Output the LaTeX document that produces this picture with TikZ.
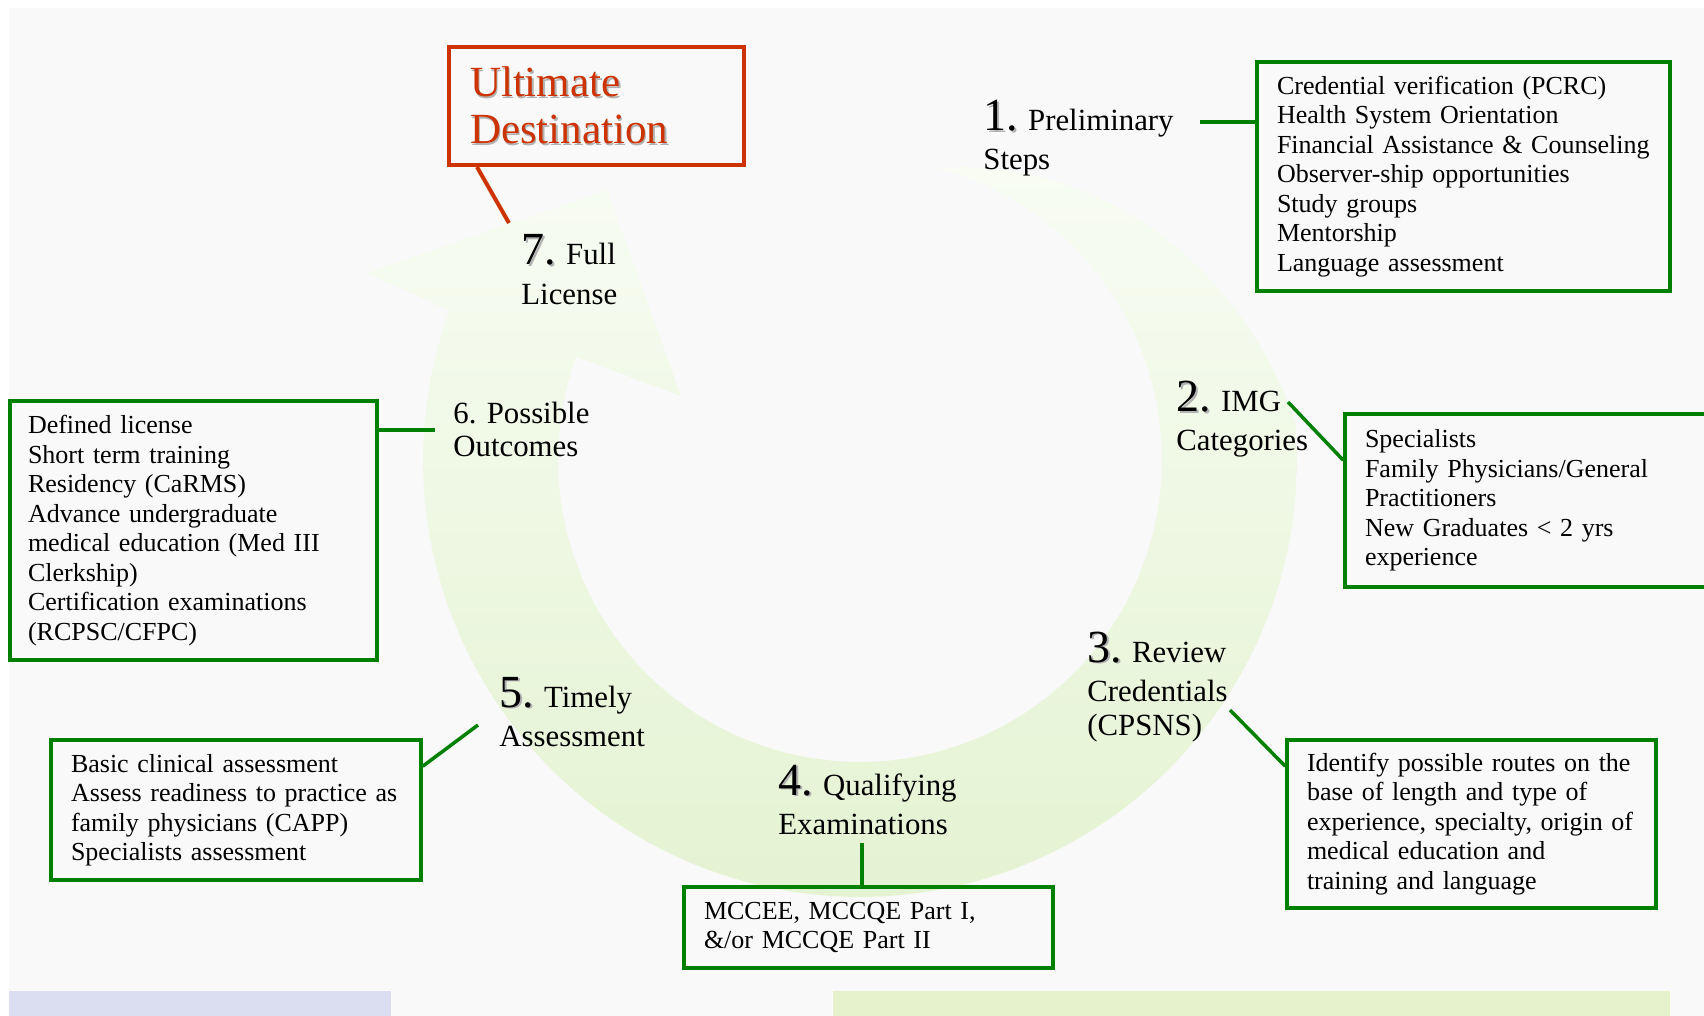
\documentclass[tikz,border=0pt]{standalone}
\usepackage{fontspec}
\setmainfont{Liberation Serif}
\usetikzlibrary{positioning}

\definecolor{boxgreen}{RGB}{0,128,0}
\definecolor{destred}{RGB}{204,51,0}
\definecolor{slidebg}{RGB}{249,249,249}
\definecolor{ringtop}{RGB}{248,252,243}
\definecolor{ringbot}{RGB}{228,243,210}
\definecolor{barblue}{RGB}{219,221,240}
\definecolor{bargreen}{RGB}{229,242,203}

\newcommand{\shadowed}[1]{\makebox[0pt][l]{\hspace{0.8pt}\raisebox{-0.8pt}{\textcolor{black!30}{#1}}}#1}
\newcommand{\stepno}[1]{{\fontsize{23}{23}\selectfont\shadowed{#1}}}

\begin{document}
\begin{tikzpicture}[
		x=0.5pt, y=-0.5pt,
		steplabel/.style={anchor=base west, inner sep=0pt, align=left, font=\fontsize{15.4}{17}\selectfont},
		infobox/.style={draw=boxgreen, line width=1.75pt, align=left, inner xsep=10pt, inner ysep=0pt, font=\fontsize{13}{14.75}\selectfont},
		destbox/.style={draw=destred, line width=2pt, text=destred, align=left, inner xsep=10.5pt, inner ysep=0pt, font=\fontsize{21.5}{23.5}\selectfont},
		link/.style={draw=boxgreen, line width=1.75pt}
		]
		\useasboundingbox (0,0) rectangle (1704,1016);
		
		% --- Slide background ---
		\fill[white] (0,0) rectangle (1704,1016);
		\fill[slidebg] (9,8) rectangle (1704,1016);
		\fill[barblue] (9,991) rectangle (391,1016);
		\fill[bargreen] (833,991) rectangle (1670,1016);
		
		% --- Circular arrow ---
		\begin{scope}[shift={(860,460)}]
			\shade[top color=ringtop, bottom color=ringbot]
			plot[domain=-75:-5, samples=30] (\x:{302+135*(\x+75)/70})
			-- plot[domain=-5:200, samples=90] (\x:437)
			-- (-159.2:527) -- (-133.1:370) -- (-160.4:190)
			-- plot[domain=200:-75, samples=110] (\x:302)
			-- cycle;
		\end{scope}
		
		% --- Detail boxes ---
		\node[infobox, text width=186.5pt, minimum height=114.5pt] (prelimbox) at (1463.5,176.5)
		{Credential verification (PCRC)\\ Health System Orientation\\ Financial Assistance \& Counseling\\ Observer-ship opportunities\\ Study groups\\ Mentorship\\ Language assessment};
		\node[infobox, text width=162.5pt, minimum height=86.5pt] (imgbox) at (1527.5,500.5)
		{Specialists\\ Family Physicians/General\\ Practitioners\\ New Graduates < 2 yrs\\ experience};
		\node[infobox, text width=164.5pt, minimum height=84pt] (reviewbox) at (1471.5,824)
		{Identify possible routes on the\\ base of length and type of\\ experience, specialty, origin of\\ medical education and\\ training and language};
		\node[infobox, text width=164.5pt, minimum height=40.5pt] (exambox) at (868.5,927.5)
		{MCCEE, MCCQE Part I,\\ \&/or MCCQE Part II};
		\node[infobox, text width=165pt, minimum height=70pt] (assessbox) at (236,810)
		{Basic clinical assessment\\ Assess readiness to practice as\\ family physicians (CAPP)\\ Specialists assessment};
		\node[infobox, inner xsep=9pt, text width=165.5pt, minimum height=129.5pt] (outcomebox) at (193.5,530.5)
		{Defined license\\ Short term training\\ Residency (CaRMS)\\ Advance undergraduate\\ medical education (Med III\\ Clerkship)\\ Certification examinations\\ (RCPSC/CFPC)};
		
		\node[destbox, text width=126.5pt, minimum height=59pt] (dest) at (596.5,106)
		{\shadowed{Ultimate}\\ \shadowed{Destination}};
		
		% --- Step labels round the ring (placed by their last line) ---
		\node[steplabel] (prelim) at (983,170) {\stepno{1.} Preliminary\\[2.5pt] Steps};
		\node[steplabel] (img) at (1176,451) {\stepno{2.} IMG\\[2.5pt] Categories};
		\node[steplabel] (review) at (1087,735) {\stepno{3.} Review\\[2.5pt] Credentials\\ (CPSNS)};
		\node[steplabel] (qualify) at (778,834) {\stepno{4.} Qualifying\\[2.5pt] Examinations};
		\node[steplabel] (timely) at (499,746) {\stepno{5.} Timely\\[2.5pt] Assessment};
		\node[steplabel] (outcome) at (453,457) {6. Possible\\ Outcomes};
		\node[steplabel] (license) at (521,305) {\stepno{7.} Full\\[3pt] License};
		
		% --- Connectors ---
		\coordinate (prelim-end) at (1200,122);
		\draw[link] (prelim-end) -- (prelim-end -| prelimbox.west);
		\coordinate (img-end) at (1288,402);
		\draw[link] (img-end) -- ([yshift=-24pt]imgbox.north west);
		\coordinate (review-end) at (1230,710);
		\draw[link] (review-end) -- ([yshift=-14pt]reviewbox.north west);
		\coordinate (qualify-end) at (862,843);
		\draw[link] (qualify-end) -- (qualify-end |- exambox.north);
		\coordinate (timely-end) at (478,725);
		\draw[link] (timely-end) -- ([yshift=-14pt]assessbox.north east);
		\coordinate (outcome-end) at (435,430);
		\draw[link] (outcome-end) -- (outcome-end -| outcomebox.east);
		\coordinate (license-end) at (509,223);
		\draw[destred, line width=2pt] (license-end) -- ([xshift=15pt]dest.south west);
		
	\end{tikzpicture}
\end{document}
